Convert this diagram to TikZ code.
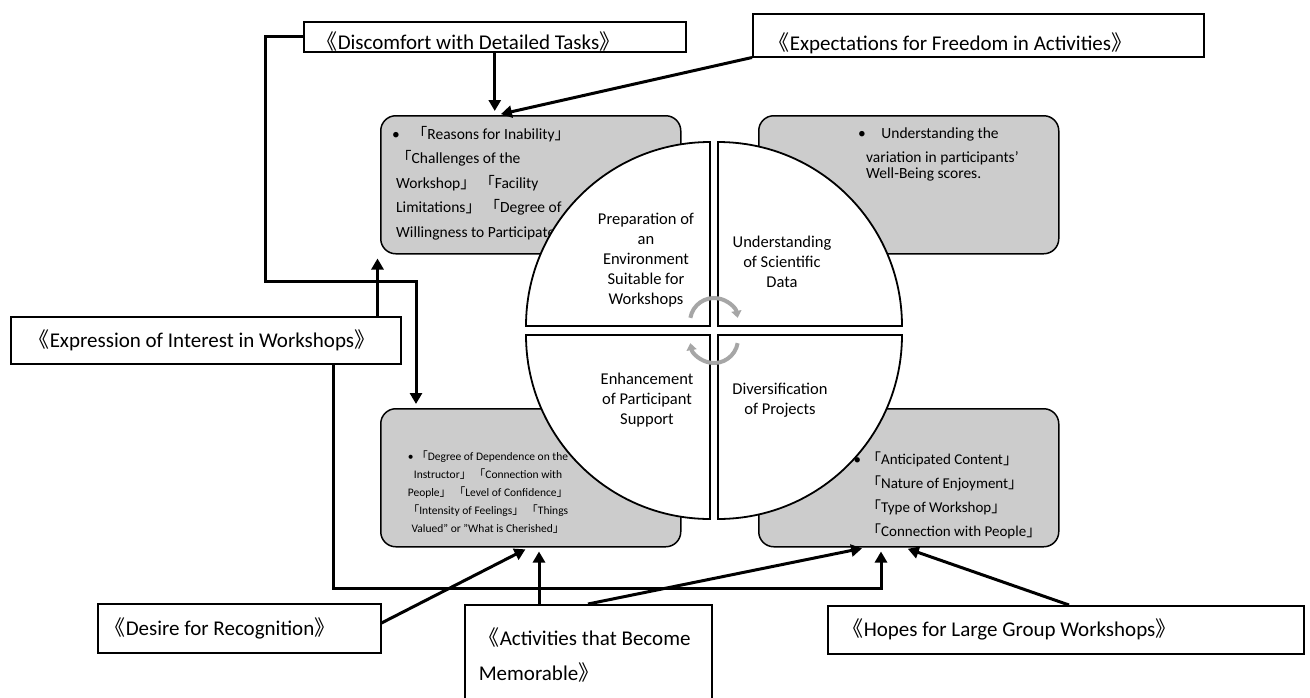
\documentclass[tikz,border=0pt]{standalone}
\usepackage{fontspec}
\setmainfont{Carlito}
\newfontfamily\cjk{Noto Sans CJK JP}
\usetikzlibrary{arrows.meta, positioning, calc}
\newcommand{\kagiL}{{\cjk 「}}
\newcommand{\kagiR}{{\cjk 」}}
\newcommand{\nijuL}{{\cjk 《}}
\newcommand{\nijuR}{{\cjk 》}}

\begin{document}
\begin{tikzpicture}[
        x=1pt, y=-1pt, % 按像素坐标排布
        tag/.style={rectangle, draw=black, line width=1.5pt, fill=white, anchor=north west, inner ysep=0pt, align=flush left, font=\fontsize{21}{26}\selectfont},
        panel/.style={rectangle, draw=black, line width=1.5pt, fill=gray!40, rounded corners=15pt, anchor=north west, minimum width=300pt, minimum height=138pt},
        quad/.style={draw=black, line width=1.8pt, fill=white},
        qtext/.style={align=center, font=\fontsize{16.5}{20}\selectfont},
        ptext/.style={anchor=north west, inner sep=0pt, align=flush left},
        arrow/.style={line width=3pt, shorten >=4pt, -{Triangle[length=11pt, width=12pt]}},
        cyc/.style={line width=4pt, gray!70, -{Triangle[length=7pt, width=10pt]}}
    ]
    \useasboundingbox (0,0) rectangle (1310,697);

    % --- Panels ---
    \node[panel] (tl) at (380,115) {};
    \node[panel] (tr) at (758,115) {};
    \node[panel] (bl) at (380,408) {};
    \node[panel] (br) at (758,408) {};

    \node[ptext, font=\fontsize{15.5}{24.5}\selectfont] (tlText) at (396,126)
        {\hspace*{-4pt}\textbullet\hspace{12pt}\kagiL Reasons for Inability\kagiR\\
         \kagiL Challenges of the\\
         Workshop\kagiR\ \kagiL Facility\\
         Limitations\kagiR\ \kagiL Degree of\\
         Willingness to Participate\kagiR};
    \node[ptext, font=\fontsize{15.5}{16}\selectfont] (trText) at (858,128)
        {\textbullet\hspace{1em}Understanding the\\[8pt]
         \hspace*{8pt}variation in participants'\\
         \hspace*{8pt}Well-Being scores.};
    \node[align=center, inner sep=0pt, font=\fontsize{11.5}{18}\selectfont] (blText) at (488,492)
        {\textbullet\ \kagiL Degree of Dependence on the\\
         Instructor\kagiR\ \kagiL Connection with\\
         People\kagiR\ \kagiL Level of Confidence\kagiR\\
         \kagiL Intensity of Feelings\kagiR\ \kagiL Things\\
         Valued" or "What is Cherished\kagiR};
    \node[ptext, font=\fontsize{15}{24}\selectfont] (brText) at (866,452)
        {\llap{\textbullet\hspace{5pt}}\kagiL Anticipated Content\kagiR\\
         \kagiL Nature of Enjoyment\kagiR\\
         \kagiL Type of Workshop\kagiR\\
         \kagiL Connection with People\kagiR};

    % --- 中间的圆 ---
    \draw[quad] (710,326) -- (526,326) arc[start angle=180, end angle=270, radius=184] -- cycle;
    \draw[quad] (718,326) -- (718,142) arc[start angle=270, end angle=360, radius=184] -- cycle;
    \draw[quad] (718,335) -- (902,335) arc[start angle=0, end angle=90, radius=184] -- cycle;
    \draw[quad] (710,335) -- (710,519) arc[start angle=90, end angle=180, radius=184] -- cycle;

    \node[qtext] (prep) at (646,260) {Preparation of\\an\\Environment\\Suitable for\\Workshops};
    \node[qtext] (sci) at (782,262) {Understanding\\of Scientific\\Data};
    \node[qtext] (supp) at (647,400) {Enhancement\\of Participant\\Support};
    \node[qtext] (div) at (780,400) {Diversification\\of Projects};

    \draw[cyc] (714,322) ++(190:24) arc[start angle=190, end angle=350, radius=24];
    \draw[cyc] (714,339) ++(10:24) arc[start angle=10, end angle=170, radius=24];

    % --- Tags ---
    \node[tag, inner xsep=13pt, text width=356pt, minimum height=30pt, text height=26pt, text depth=0pt] (disc) at (303,21) {\nijuL Discomfort with Detailed Tasks\nijuR};
    \node[tag, inner xsep=16pt, text width=419pt, minimum height=43pt, text height=30pt, text depth=0pt] (expect) at (752,13) {\nijuL Expectations for Freedom in Activities\nijuR};
    \node[tag, inner xsep=17pt, text width=356pt, minimum height=47pt] (expr) at (10,316) {\hspace*{1pt}\nijuL Expression of Interest in Workshops\nijuR};
    \node[tag, inner xsep=7pt, text width=269pt, minimum height=49pt] (desire) at (97,603) {\nijuL Desire for Recognition\nijuR};
    \node[tag, inner xsep=14pt, text width=219pt, minimum height=100pt, font=\fontsize{21}{35}\selectfont] (act) at (464,604) {\nijuL Activities that Become\\Memorable\nijuR};
    \node[tag, inner xsep=15pt, text width=446pt, minimum height=48pt] (hopes) at (827,605) {\nijuL Hopes for Large Group Workshops\nijuR};

    % --- Edges ---
    \draw[arrow] (disc.south) -- (disc.south |- tl.north);
    \draw[arrow] (expect.south west) -- ($(tl.north west)+(117,0)$);

    \coordinate (bendA) at (265,281);
    \draw[arrow] (disc.west) -| (bendA) -| ($(bl.north west)+(36,0)$);

    \coordinate (exprUp) at ($(expr.north east)+(-24,0)$);
    \draw[arrow] (exprUp) -- (exprUp |- tl.south);

    \coordinate (exprDn) at ($(expr.south west)+(323,0)$);
    \coordinate (bendB) at (881,588);
    \draw[arrow] (exprDn) |- (bendB) -- (bendB |- br.south);

    \draw[arrow] ($(desire.north east)+(0,20)$) -- ($(bl.south west)+(149,0)$);
    \coordinate (actUp) at ($(act.north west)+(75,0)$);
    \draw[arrow] (actUp) -- (actUp |- bl.south);
    \draw[arrow] ($(act.north west)+(124,0)$) -- ($(br.south west)+(108,0)$);
    \draw[arrow] ($(hopes.north west)+(242,0)$) -- ($(br.south west)+(146,0)$);

\end{tikzpicture}
\end{document}
